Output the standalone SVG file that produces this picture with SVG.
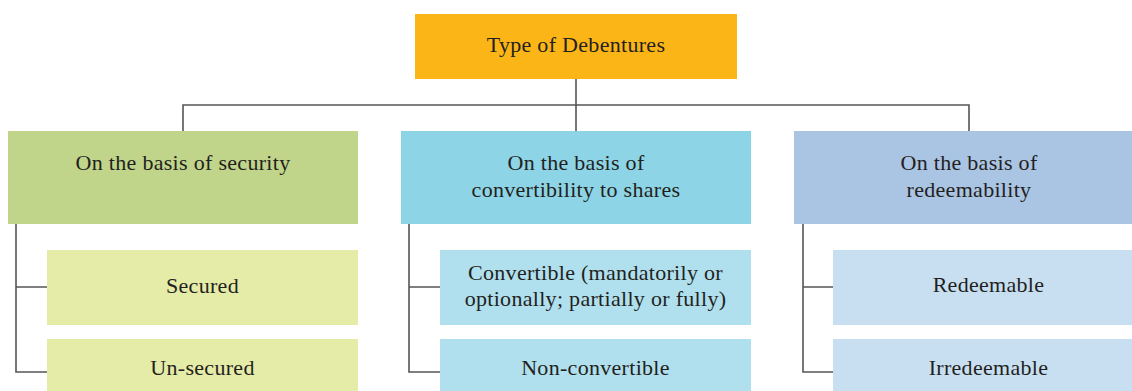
<svg xmlns="http://www.w3.org/2000/svg" width="1132" height="391" viewBox="0 0 1132 391">
<style>
text{font-family:"Liberation Serif","DejaVu Serif",serif;font-size:22px;letter-spacing:0.3px;fill:#231f20;text-anchor:middle}
.c{fill:none;stroke:#555;stroke-width:1.6}
</style>
<rect width="1132" height="391" fill="#fff"/>
<g id="connectors">
<path class="c" d="M576,79V131M183,131V105H969V131"/>
<path class="c" d="M16,224V372H47M16,287H47"/>
<path class="c" d="M409,224V372H440M409,287H440"/>
<path class="c" d="M803,224V372H833M803,287H833"/>
</g>
<g id="root"><rect x="415" y="14" width="322" height="65" fill="#fbb516"/><text x="576" y="52">Type of Debentures</text></g>
<g id="security"><rect x="8" y="131" width="350" height="93" fill="#c0d58a"/><text x="183" y="170">On the basis of security</text></g>
<g id="convertibility"><rect x="401" y="131" width="350" height="93" fill="#8dd5e6"/><text x="576" y="170">On the basis of</text><text x="576" y="197">convertibility to shares</text></g>
<g id="redeemability"><rect x="794" y="131" width="350" height="93" fill="#aac4e4"/><text x="969" y="170">On the basis of</text><text x="969" y="197">redeemability</text></g>
<g id="secured"><rect x="47" y="250" width="311" height="75" fill="#e5eca8"/><text x="202.5" y="293">Secured</text></g>
<g id="unsecured"><rect x="47" y="339" width="311" height="60" fill="#e5eca8"/><text x="202.5" y="375">Un-secured</text></g>
<g id="convertible"><rect x="440" y="250" width="311" height="75" fill="#b0e0ee"/><text x="595.5" y="280">Convertible (mandatorily or</text><text x="595.5" y="306">optionally; partially or fully)</text></g>
<g id="nonconvertible"><rect x="440" y="339" width="311" height="60" fill="#b0e0ee"/><text x="595.5" y="375">Non-convertible</text></g>
<g id="redeemable"><rect x="833" y="250" width="311" height="75" fill="#c8dff2"/><text x="988.5" y="292">Redeemable</text></g>
<g id="irredeemable"><rect x="833" y="339" width="311" height="60" fill="#c8dff2"/><text x="988.5" y="375">Irredeemable</text></g>
</svg>
